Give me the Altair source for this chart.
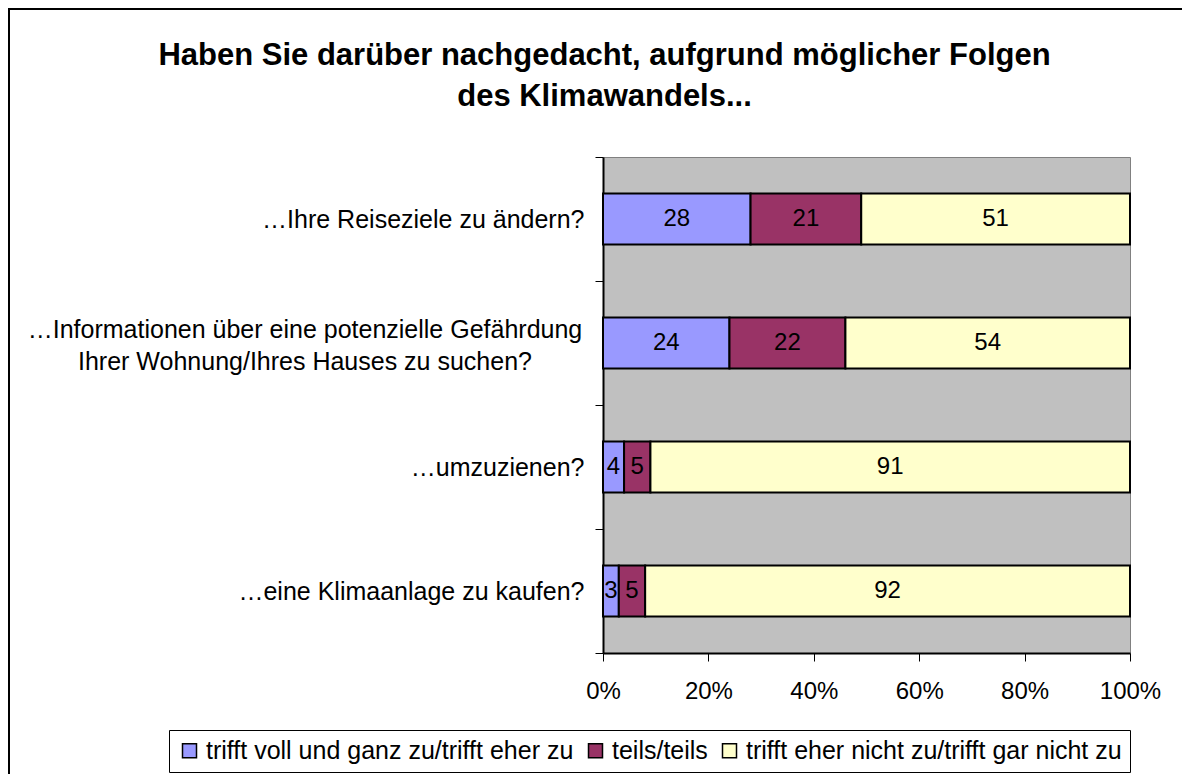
import altair as alt
import pandas as pd

categories = [
    "…Ihre Reiseziele zu ändern?",
    "…Informationen über eine potenzielle Gefährdung|Ihrer Wohnung/Ihres Hauses zu suchen?",
    "…umzuzienen?",
    "…eine Klimaanlage zu kaufen?",
]
series = [
    "trifft voll und ganz zu/trifft eher zu",
    "teils/teils",
    "trifft eher nicht zu/trifft gar nicht zu",
]
colors = ["#9999FF", "#993366", "#FFFFCC"]
voll = [28, 24, 4, 3]
teils = [21, 22, 5, 5]
nicht = [51, 54, 91, 92]
x_ticks = [0, 20, 40, 60, 80, 100]

rows = []
for i, c in enumerate(categories):
    for j, (s, vals) in enumerate(zip(series, [voll, teils, nicht])):
        rows.append({"cat": c, "series": s, "value": vals[i], "order": j})
df = pd.DataFrame(rows)
multi = pd.DataFrame({"cat": [c for c in categories if "|" in c]})

FONT = "Liberation Sans"

y_enc = alt.Y(
    "cat:N",
    sort=categories,
    scale=alt.Scale(paddingInner=0, paddingOuter=0),
    axis=alt.Axis(
        title=None,
        tickBand="extent",
        tickSize=8,
        tickColor="black",
        tickWidth=1,
        domainColor="black",
        domainWidth=2,
        labelFontSize=25,
        labelColor="black",
        labelLimit=0,
        labelPadding=11,
        labelExpr="indexof(datum.label, '|') >= 0 ? '' : datum.label",
    ),
)

x_axis = alt.Axis(
    title=None,
    values=x_ticks,
    labelExpr="datum.value + '%'",
    tickSize=8,
    tickColor="black",
    tickWidth=1,
    domainColor="black",
    domainWidth=2,
    labelFontSize=24,
    labelColor="black",
    labelPadding=18,
    labelFlush=False,
    grid=False,
)

bars = alt.Chart(df).mark_bar(
    stroke="black", strokeWidth=2, height={"band": 0.41}
).encode(
    y=y_enc,
    x=alt.X("value:Q", stack="zero", scale=alt.Scale(domain=[0, 100]), axis=x_axis),
    color=alt.Color(
        "series:N",
        scale=alt.Scale(domain=series, range=colors),
        legend=alt.Legend(
            title=None,
            orient="none",
            legendX=-434,
            legendY=573,
            direction="horizontal",
            strokeColor="black",
            fillColor="white",
            padding=8,
            symbolType="square",
            symbolSize=196,
            symbolStrokeColor="black",
            symbolStrokeWidth=1.5,
            labelFontSize=25,
            labelColor="black",
            labelOffset=4,
            columnPadding=9,
            labelLimit=0,
        ),
    ),
    order=alt.Order("order:Q"),
)

labels = (
    alt.Chart(df)
    .transform_stack(stack="value", groupby=["cat"], as_=["v0", "v1"], sort=[alt.SortField("order")])
    .transform_calculate(mid="(datum.v0 + datum.v1) / 2")
    .mark_text(fontSize=24, color="black", font=FONT)
    .encode(
        y=y_enc,
        x=alt.X("mid:Q", scale=alt.Scale(domain=[0, 100]), axis=x_axis),
        text="value:Q",
    )
)

multi_label = alt.Chart(multi).mark_text(
    fontSize=25, color="black", font=FONT, align="center", baseline="middle",
    lineBreak="|", lineHeight=32, dy=-13,
).encode(
    y=y_enc,
    x=alt.value(-298),
    text="cat:N",
)

border = alt.Chart(pd.DataFrame({"b": [0]})).mark_rect(
    fillOpacity=0, stroke="black", strokeWidth=2
).encode(
    x=alt.value(-594), x2=alt.value(640), y=alt.value(-148), y2=alt.value(660)
)

chart = (
    alt.layer(bars, labels, multi_label, border)
    .properties(
        width=527,
        height=496,
        autosize="none",
        padding={"left": 595, "top": 149, "right": 52, "bottom": 121},
        background="white",
        title=alt.TitleParams(
            text=["Haben Sie darüber nachgedacht, aufgrund möglicher Folgen", "des Klimawandels..."],
            fontSize=31,
            fontWeight="bold",
            font=FONT,
            anchor="middle",
            dx=-262,
            offset=-105,
            lineHeight=41,
            color="black",
        ),
    )
    .configure(font=FONT)
    .configure_view(fill="#C0C0C0", stroke="#808080", strokeWidth=1)
)

chart.save("out.html", embed_options={"renderer": "svg", "actions": False})
